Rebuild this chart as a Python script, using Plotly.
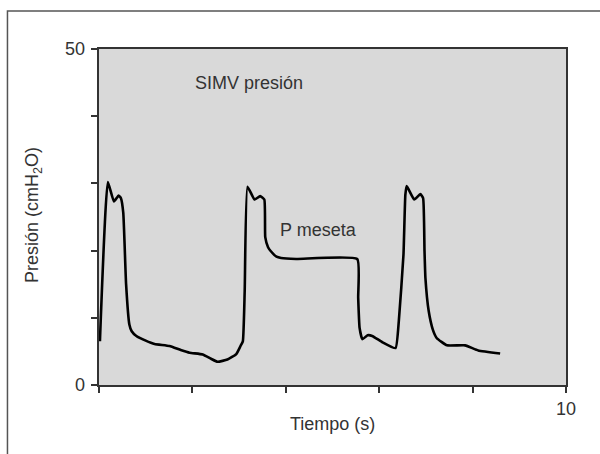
import plotly.graph_objects as go

# Time (s) and pressure (cmH2O)
tiempo = [0.02, 0.19, 0.32, 0.42, 0.47, 0.52, 0.58, 0.65, 0.70, 0.80, 1.00, 1.19, 1.51, 1.75,
          1.94, 2.22, 2.40, 2.54, 2.75, 2.94, 3.03, 3.08, 3.12, 3.18, 3.33, 3.45, 3.54, 3.56,
          3.62, 3.68, 3.80, 3.90, 4.22, 5.53, 5.55, 5.58, 5.64, 5.75, 5.85, 6.06, 6.35, 6.42,
          6.52, 6.56, 6.59, 6.75, 6.88, 6.94, 6.97, 6.99, 7.06, 7.15, 7.23, 7.45, 7.84, 8.12, 8.59]
presion = [6.5, 30.2, 27.3, 28.2, 27.8, 25.6, 15.0, 9.0, 8.0, 7.3, 6.6, 6.1, 5.8, 5.2,
           4.8, 4.55, 3.9, 3.45, 3.8, 4.6, 5.8, 6.5, 14.0, 29.5, 27.6, 28.1, 27.6, 22.0,
           20.5, 19.9, 19.1, 18.9, 18.75, 18.75, 13.0, 8.5, 6.8, 7.4, 7.3, 6.4, 5.5, 9.5,
           19.4, 28.3, 29.6, 27.6, 28.4, 27.8, 20.0, 15.9, 11.0, 8.2, 7.0, 5.9, 5.9, 5.15, 4.7]

y_ticks = [0, 10, 20, 30, 40, 50]
y_labels = {0: "0", 50: "50"}
x_ticks = [0, 2, 4, 6, 8, 10]
x_labels = {10: "10"}

FONT = "Liberation Sans, Arial, Helvetica, sans-serif"
TXT = "#333333"

fig = go.Figure()
fig.add_trace(go.Scatter(x=tiempo, y=presion, mode="lines",
                         line=dict(color="black", width=2.6, shape="spline", smoothing=0.4),
                         hoverinfo="skip", showlegend=False))

fig.update_layout(
    width=600, height=454,
    margin=dict(l=99, r=34, t=49, b=69),
    paper_bgcolor="white", plot_bgcolor="#d9d9d9",
    font=dict(family=FONT, size=18, color=TXT),
    showlegend=False,
)
fig.update_xaxes(range=[0, 10], tickvals=x_ticks, showticklabels=False,
                 ticks="outside", ticklen=6, tickwidth=1.5, tickcolor="#333",
                 showline=True, linecolor="#333", linewidth=1.5, mirror=True,
                 showgrid=False, zeroline=False)
fig.update_yaxes(range=[0, 50], tickvals=y_ticks, showticklabels=False,
                 ticks="outside", ticklen=6, tickwidth=1.5, tickcolor="#333",
                 showline=True, linecolor="#333", linewidth=1.5, mirror=True,
                 showgrid=False, zeroline=False)

# tick labels (only some ticks are labelled in the reference)
for v, lab in y_labels.items():
    fig.add_annotation(x=0, y=v, xref="paper", yref="y", text=lab, showarrow=False,
                       xanchor="right", yanchor="middle", xshift=-12,
                       font=dict(size=18, color=TXT))
for v, lab in x_labels.items():
    fig.add_annotation(x=v, y=0, xref="x", yref="paper", text=lab, showarrow=False,
                       xanchor="center", yanchor="top", yshift=-12,
                       font=dict(size=18, color=TXT))

fig.add_annotation(x=2.01, y=44.9, xref="x", yref="y", text="SIMV presión",
                   showarrow=False, xanchor="left", yanchor="middle",
                   font=dict(size=18, color=TXT))
fig.add_annotation(x=3.83, y=23.1, xref="x", yref="y", text="P meseta",
                   showarrow=False, xanchor="left", yanchor="middle",
                   font=dict(size=18, color=TXT))
fig.add_annotation(x=-0.139, y=0.506, xref="paper", yref="paper",
                   text="Presión (cmH<sub>2</sub>O)", textangle=-90,
                   showarrow=False, xanchor="center", yanchor="middle",
                   font=dict(size=18, color=TXT))
fig.add_annotation(x=0.5, y=-0.116, xref="paper", yref="paper", text="Tiempo (s)",
                   showarrow=False, xanchor="center", yanchor="middle",
                   font=dict(size=18, color=TXT))

# outer frame (top and left edges visible)
fig.add_shape(type="path", xref="paper", yref="paper",
              path="M -0.196,-0.3 L -0.196,1.113 L 1.2,1.113",
              line=dict(color="#555555", width=1.5))

fig.write_html("out.html")
